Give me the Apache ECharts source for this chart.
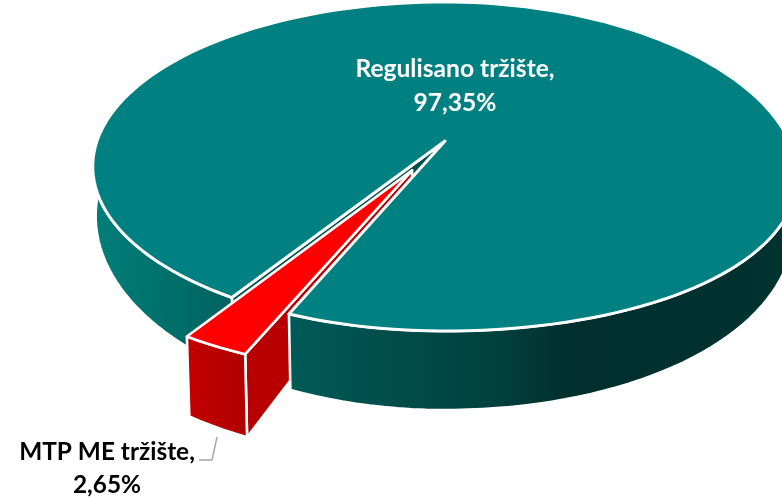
<!DOCTYPE html>
<html>
<head>
<meta charset="utf-8">
<style>html,body{margin:0;padding:0;background:#fff}#c{width:782px;height:498px}</style>
<script src="https://cdn.jsdelivr.net/npm/echarts@6/dist/echarts.min.js"></script>
</head>
<body>
<div id="c"></div>
<script>
const categories = ['Regulisano tržište', 'MTP ME tržište'];
const shares = [97.35, 2.65];

// projection of the pie disc
const CX = 445, CY = 141, A = 348, B = 160.6, B_LOW = 184, K = 0.155, DEPTH = 45.5, FAR = 0.008;
const SAG = 9, SAG_SPAN = 337;
const START = 22.6, EXPLODE = 0.2;
const RAD = Math.PI / 180;
const total = shares.reduce((a, b) => a + b, 0);

function proj(u, v, low) {
  const w = 1 - K * v + (low ? FAR : 0);
  const x = CX + A * u / w;
  const y = CY + (low ? B_LOW * v + DEPTH : B * v) / w;
  const sag = x > CX ? SAG * Math.pow((x - CX) / SAG_SPAN, 2) : 0;
  return [x, y + sag];
}
function ring(t, du, dv, low) {
  return proj(du - Math.sin(t * RAD), dv + Math.cos(t * RAD), low);
}
function arc(t0, t1, du, dv, low) {
  const n = Math.max(2, Math.ceil(Math.abs(t1 - t0) / 2)), out = [];
  for (let i = 0; i <= n; i++) out.push(ring(t0 + (t1 - t0) * i / n, du, dv, low));
  return out;
}
const hGrad = (stops) => ({ type: 'linear', x: 94, y: 0, x2: 782, y2: 0, global: true, colorStops: stops });
const tealWall = hGrad([
  { offset: 0, color: '#007f79' }, { offset: 0.2, color: '#00625e' },
  { offset: 0.285, color: '#005a57' }, { offset: 0.445, color: '#004c4a' },
  { offset: 0.59, color: '#00403e' }, { offset: 0.69, color: '#002f2d' },
  { offset: 1, color: '#003230' }]);
const redWall = hGrad([
  { offset: 0.13, color: '#c40000' }, { offset: 0.22, color: '#b00000' }]);

function poly(points, fill, z2, lineW) {
  return { type: 'polygon', z2: z2, shape: { points: points },
    style: { fill: fill, stroke: '#fff', lineWidth: lineW === undefined ? 2.6 : lineW, lineJoin: 'round' } };
}
function renderItem(params, api) {
  const i = params.dataIndex;
  const val = api.value(0);
  const sweep = val / total * 360;
  const kids = [];
  if (i === 1) {
    const t0 = START, t1 = START + sweep, mid = (t0 + t1) / 2;
    const du = -EXPLODE * Math.sin(mid * RAD), dv = EXPLODE * Math.cos(mid * RAD);
    const apexT = proj(du, dv, false), apexL = proj(du, dv, true);
    const topArc = arc(t0, t1, du, dv, false), lowArc = arc(t0, t1, du, dv, true);
    kids.push(poly([apexT, topArc[0], lowArc[0], apexL], '#b80000', 3));
    kids.push(poly(topArc.concat(lowArc.slice().reverse()), redWall, 7));
    kids.push(poly([apexT].concat(topArc), '#ff0000', 8));
  } else {
    const gapT = START + 360 - sweep;
    const apexT = proj(0, 0, false), apexL = proj(0, 0, true);
    const gapTop = ring(gapT, 0, 0, false), gapLow = ring(gapT, 0, 0, true);
    kids.push(poly([apexT, gapTop, gapLow, apexL], '#00504d', 1));
    const la = arc(gapT, 98, 0, 0, false), lb = arc(gapT, 98, 0, 0, true);
    kids.push(poly(la.concat(lb.slice().reverse()), tealWall, 2));
    const ra = arc(START, -105, 0, 0, false), rb = arc(START, -105, 0, 0, true);
    kids.push(poly(ra.concat(rb.slice().reverse()), tealWall, 4));
    kids.push(poly([apexT].concat(arc(gapT, START + 360, 0, 0, false)), '#008080', 5, 3));
  }
  return { type: 'group', children: kids };
}

const pct = (v) => v.toFixed(2).replace('.', ',') + '%';
const chart = echarts.init(document.getElementById('c'), null, { renderer: 'canvas' });
const FONT = 'Lato, "Open Sans", sans-serif';
chart.setOption({
  animation: false,
  backgroundColor: '#fff',
  series: [{
    type: 'custom',
    coordinateSystem: 'none',
    renderItem: renderItem,
    clip: false,
    silent: true,
    data: shares.map((v, i) => ({ name: categories[i], value: [v] }))
  }],
  graphic: [
    { type: 'text', z: 20, x: 455, y: 86.5,
      style: { text: categories[0] + ',\n' + pct(shares[0]), fill: '#fff', align: 'center', verticalAlign: 'middle',
        font: 'bold 24.6px ' + FONT, lineHeight: 34 } },
    { type: 'text', z: 20, x: 107, y: 468.5,
      style: { text: categories[1] + ',\n' + pct(shares[1]), fill: '#000', align: 'center', verticalAlign: 'middle',
        font: 'bold 24.4px ' + FONT, lineHeight: 33 } },
    { type: 'polyline', z: 20, silent: true,
      shape: { points: [[217, 437], [212, 460], [199, 460]] },
      style: { stroke: '#a6a6a6', lineWidth: 1.5, fill: 'none' } }
  ]
});
</script>
</body>
</html>
